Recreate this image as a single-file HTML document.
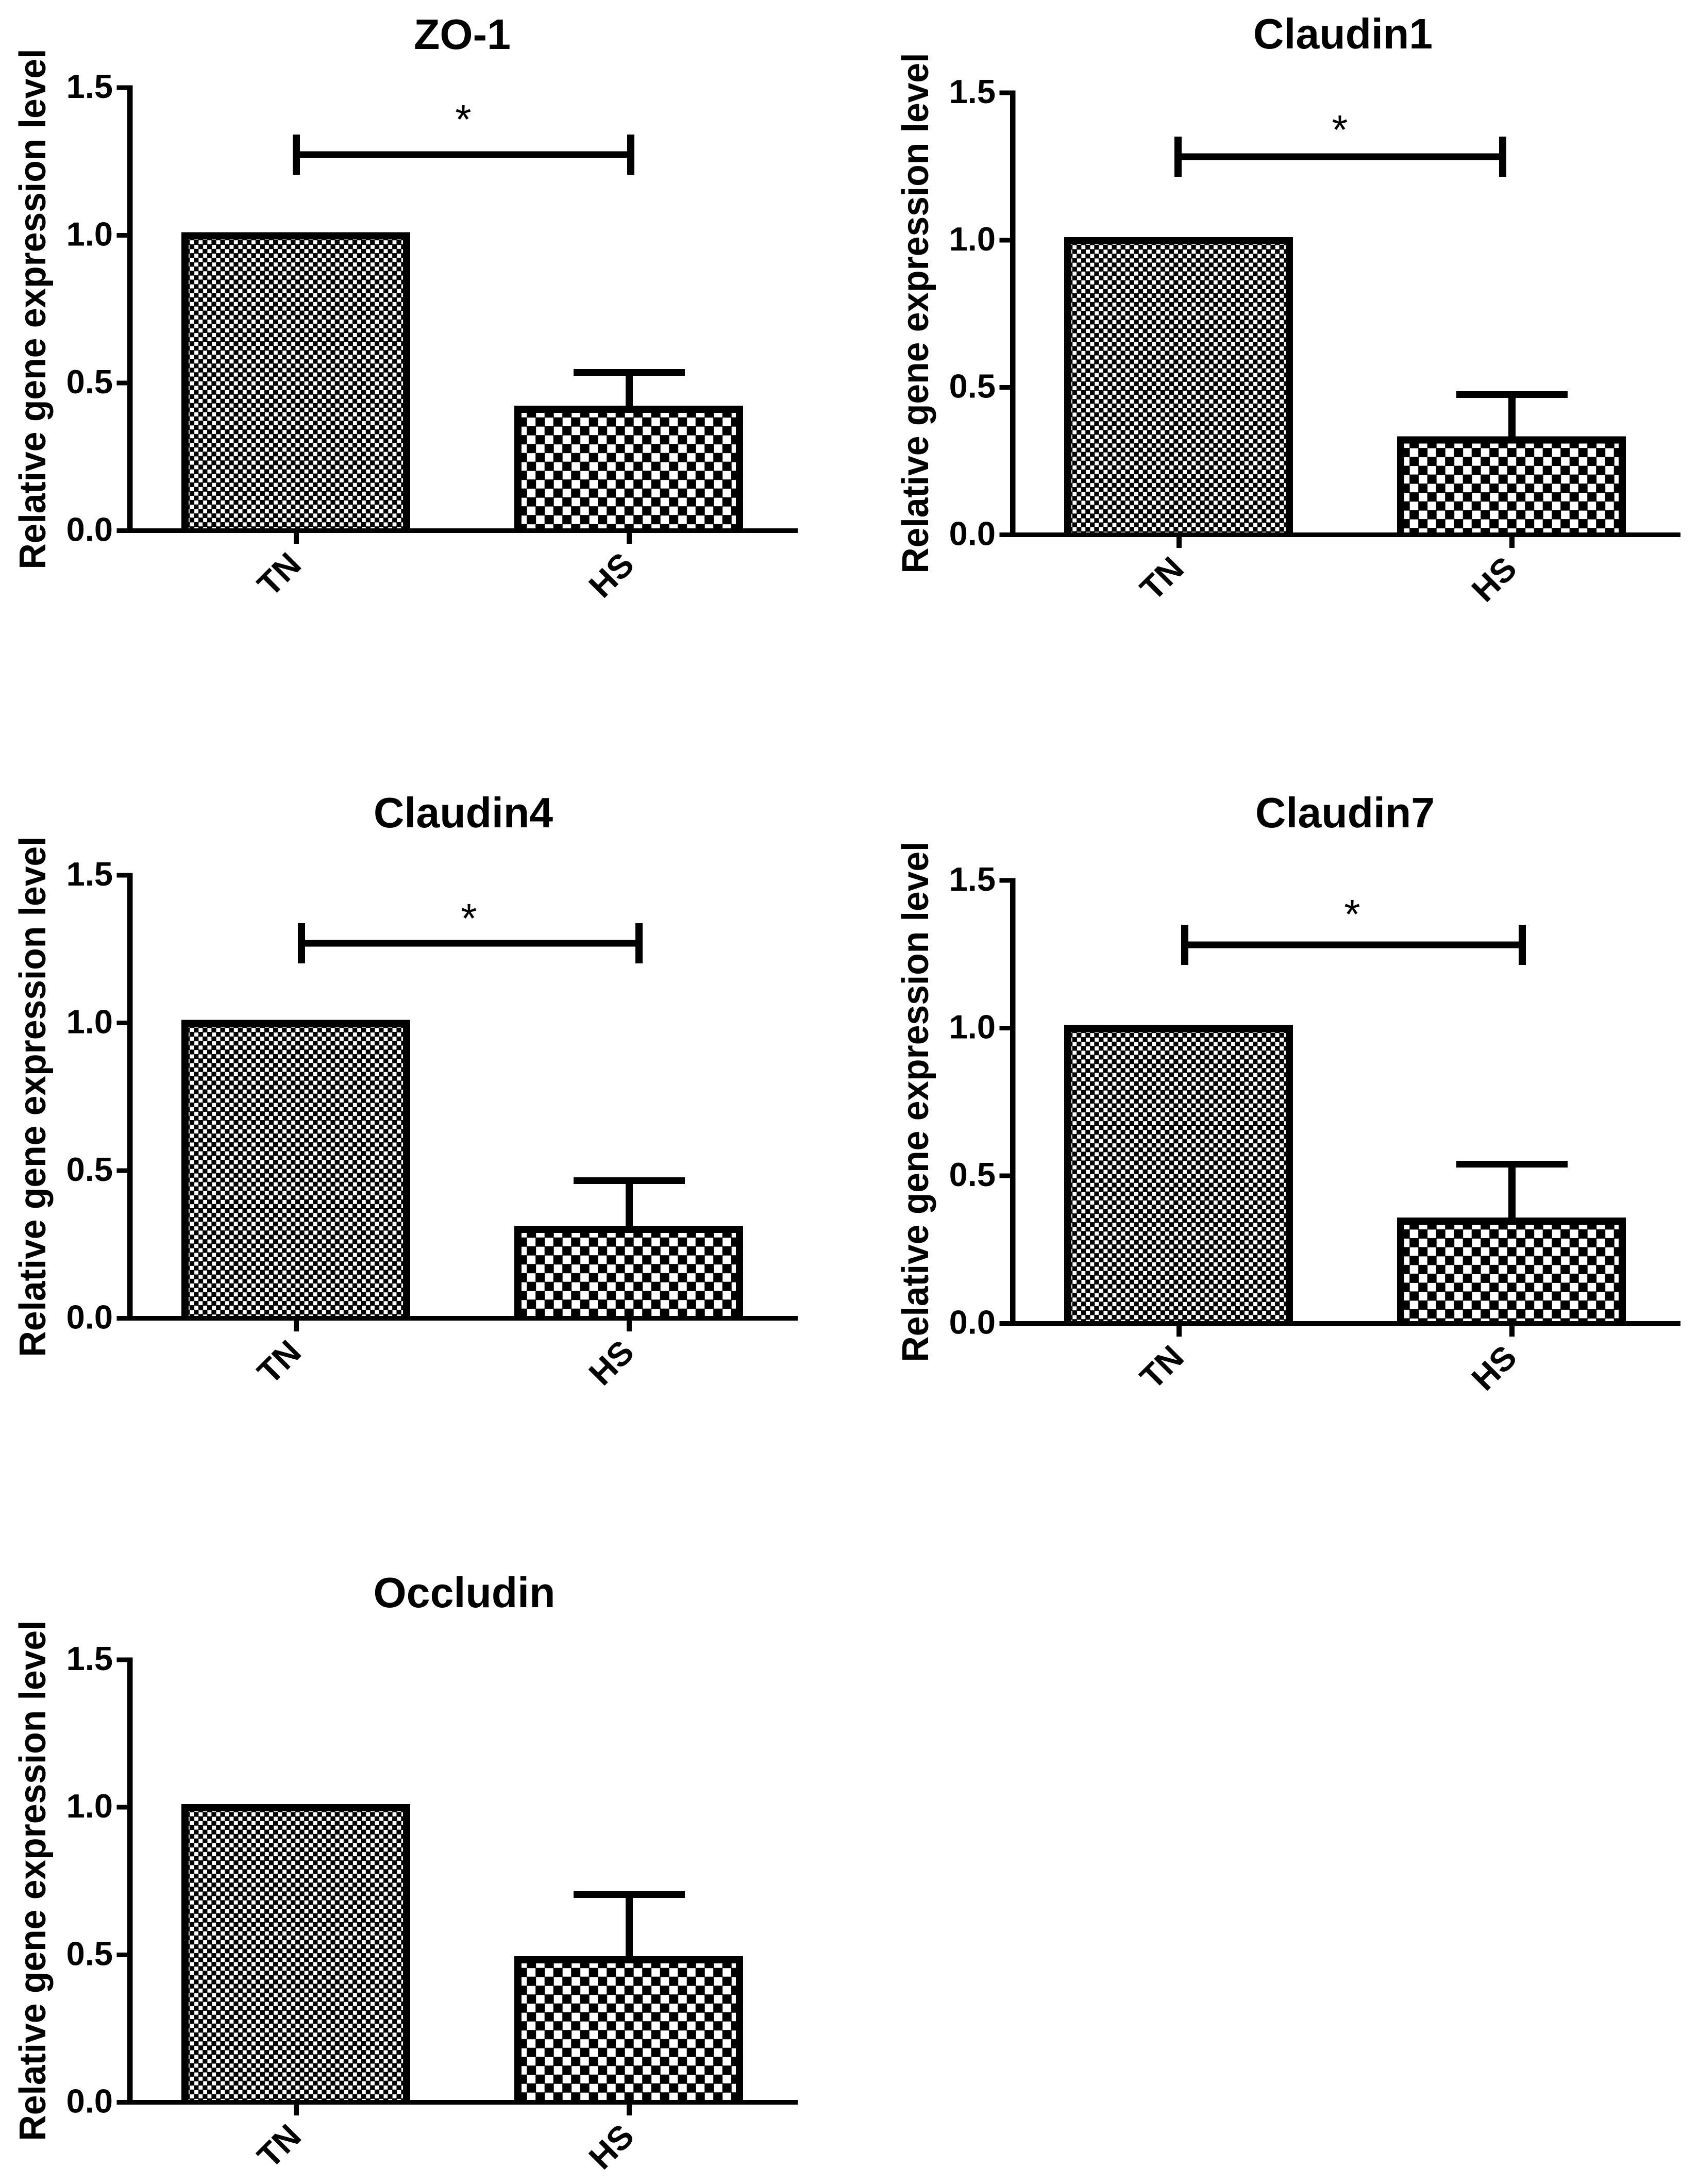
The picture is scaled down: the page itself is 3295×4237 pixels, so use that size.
<!DOCTYPE html>
<html lang="en">
<head>
<meta charset="utf-8">
<title>Relative gene expression: TN vs HS</title>
<style>
  html, body { margin: 0; padding: 0; background: #fff; }
  svg { display: block; }
  text { font-family: "Liberation Sans", Arial, sans-serif; fill: #000; }
  rect { shape-rendering: crispEdges; }
</style>
</head>
<body>
<svg id="figure" xmlns="http://www.w3.org/2000/svg" width="3295" height="4237" viewBox="0 0 3295 4237">
  <rect x="0" y="0" width="3295" height="4237" fill="#fff"/>
  <defs id="defs"></defs>
</svg>
<script>
// ---- chart data ----
const panelTitles = ['ZO-1', 'Claudin1', 'Claudin4', 'Claudin7', 'Occludin'];
const categories = ['TN', 'HS'];
const tnValues = [1.0, 1.0, 1.0, 1.0, 1.0];
const hsValues = [0.413, 0.324, 0.303, 0.348, 0.485];
const hsUpperError = [0.536, 0.476, 0.466, 0.539, 0.704];
const bracketLevels = [1.273, 1.283, 1.27, 1.282, null];
const significance = ['*', '*', '*', '*', ''];
const tickValues = [0, 0.5, 1, 1.5];
const tickLabels = ['0.0', '0.5', '1.0', '1.5'];
const axisLabel = 'Relative gene expression level';
const axisMax = 1.5;

// ---- panel layout (frames, not data) ----
const frames = [
  { axisX: 252,  y0: 1029.5, yTop: 170,  titleX: 897,  titleY: 95,   brL: 575,  brR: 1224, starX: 899,  starY: 221 },
  { axisX: 1965, y0: 1037.5, yTop: 180,  titleX: 2606, titleY: 94,   brL: 2286, brR: 2916, starX: 2600, starY: 241 },
  { axisX: 252,  y0: 2557.5, yTop: 1698, titleX: 899,  titleY: 1605, brL: 585,  brR: 1240, starX: 910,  starY: 1771 },
  { axisX: 1965, y0: 2567.5, yTop: 1708, titleX: 2610, titleY: 1605, brL: 2299, brR: 2954, starX: 2624, starY: 1763 },
  { axisX: 252,  y0: 4078.5, yTop: 3220, titleX: 901,  titleY: 3118, brL: 0,    brR: 0,    starX: 0,    starY: 0 }
];
const tickOffsets = [323, 969];
const barLefts = [100, 746];
const barWidth = 444;

const NS = 'http://www.w3.org/2000/svg';
const svg = document.getElementById('figure');
const defs = document.getElementById('defs');

function make(parent, tag, attrs, text) {
  const el = document.createElementNS(NS, tag);
  for (const k in attrs) el.setAttribute(k, attrs[k]);
  if (text !== undefined) el.textContent = text;
  parent.appendChild(el);
  return el;
}

function makePattern(id, period, white, tx, ty) {
  const p = make(defs, 'pattern', {
    id: id, patternUnits: 'userSpaceOnUse',
    width: period, height: period,
    patternTransform: 'translate(' + tx + ' ' + ty + ')'
  });
  make(p, 'rect', { x: 0, y: 0, width: period, height: period, fill: '#000' });
  make(p, 'rect', { x: 0, y: 0, width: white, height: white, fill: '#fff' });
  make(p, 'rect', { x: period / 2, y: period / 2, width: white, height: white, fill: '#fff' });
}

frames.forEach(function (f, i) {
  const yScale = function (v) { return f.y0 - v / axisMax * (f.y0 - f.yTop); };
  const g = make(svg, 'g', {});
  
  

  const title = make(g, 'text', { x: f.titleX, y: f.titleY, 'text-anchor': 'middle', 'font-size': 82.5, 'font-weight': 'bold' }, panelTitles[i]);
  
  

  const ylab = make(g, 'text', { x: 0, y: 0, 'text-anchor': 'middle', 'font-size': 72, 'font-weight': 'bold',
    textLength: 1010, lengthAdjust: 'spacingAndGlyphs',
    transform: 'translate(' + (f.axisX - 164) + ' ' + (f.y0 - 430) + ') rotate(-90)' }, axisLabel);
  
  

  // bars
  const values = [tnValues[i], hsValues[i]];
  values.forEach(function (v, c) {
    const x = f.axisX + barLefts[c];
    const top = yScale(v) - 6;
    const outer = make(g, 'rect', { x: x, y: top, width: barWidth, height: f.y0 - top, fill: '#000' });
    
    
    const pid = 'fill-' + i + '-' + c;
    if (c === 0) makePattern(pid, 17.1, 8, x + 16.3, top + 15.7);
    else makePattern(pid, 34.5, 16.7, x + 24.7, top + 23.3);
    const inner = make(g, 'rect', { x: x + 14, y: top + 14, width: barWidth - 28, height: f.y0 - top - 14 - 4.5, fill: 'url(#' + pid + ')' });
    
    
  });

  // error bar on HS
  const capY = yScale(hsUpperError[i]);
  const hsTickX = f.axisX + tickOffsets[1];
  const stem = make(g, 'rect', { x: hsTickX - 7, y: capY, width: 14, height: yScale(hsValues[i]) - capY, fill: '#000' });
  
  
  const cap = make(g, 'rect', { x: hsTickX - 108, y: capY - 6.5, width: 216, height: 13, fill: '#000' });
  
  

  // axes
  const yAxis = make(g, 'rect', { x: f.axisX - 5, y: f.yTop - 4.5, width: 10.5, height: f.y0 - f.yTop + 9, fill: '#000' });
  
  
  const xAxis = make(g, 'rect', { x: f.axisX - 5, y: f.y0 - 4.5, width: 1301, height: 9, fill: '#000' });
  
  

  tickValues.forEach(function (t, k) {
    const ty = yScale(t);
    const tick = make(g, 'rect', { x: f.axisX - 25.5, y: ty - 4.5, width: 26, height: 9, fill: '#000' });
    
    
    const lab = make(g, 'text', { x: f.axisX - 33, y: ty + 20, 'text-anchor': 'end', 'font-size': 65, 'font-weight': 'bold' }, tickLabels[k]);
    
    
  });

  categories.forEach(function (name, c) {
    const tx = f.axisX + tickOffsets[c];
    const tick = make(g, 'rect', { x: tx - 5, y: f.y0, width: 10, height: 25.5, fill: '#000' });
    
    
    const lab = make(g, 'text', { x: 0, y: 0, 'text-anchor': 'end', 'font-size': 65, 'font-weight': 'bold',
      transform: 'translate(' + (tx + 13) + ' ' + (f.y0 + 70) + ') rotate(-45)' }, name);
    
    
  });

  // significance bracket
  if (bracketLevels[i] !== null) {
    const by = yScale(bracketLevels[i]);
    const bar = make(g, 'rect', { x: f.brL, y: by - 6.5, width: f.brR - f.brL, height: 13, fill: '#000' });
    
    
    const left = make(g, 'rect', { x: f.brL - 7, y: by - 39, width: 14, height: 78, fill: '#000' });
    
    
    const right = make(g, 'rect', { x: f.brR - 7, y: by - 39, width: 14, height: 78, fill: '#000' });
    
    
    const star = make(g, 'text', { x: f.starX, y: f.starY + 38, 'text-anchor': 'middle', 'font-size': 80 }, significance[i]);
    
    
  }
});
</script>
</body>
</html>
